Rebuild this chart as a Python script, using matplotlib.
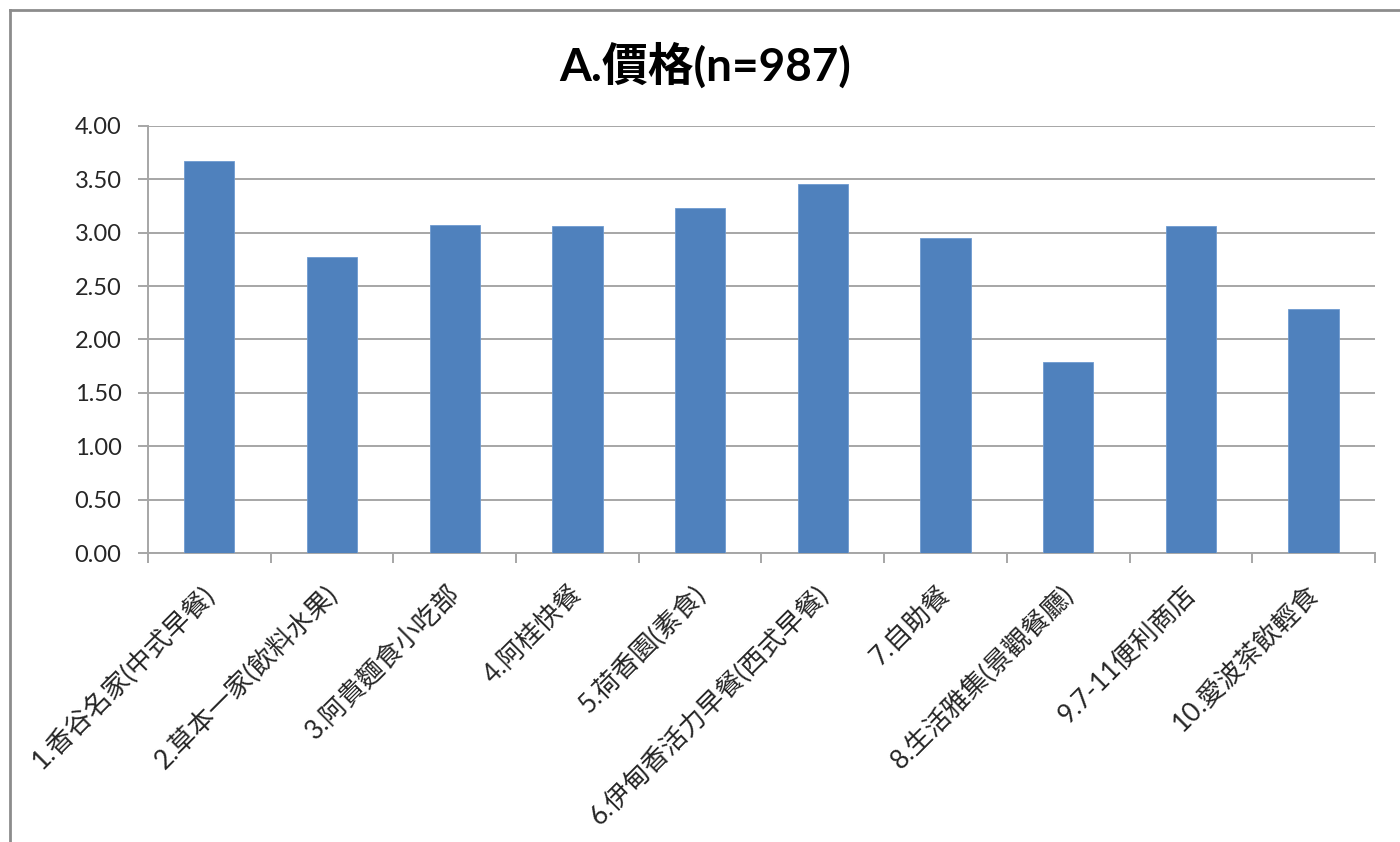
import matplotlib
matplotlib.use("Agg")
import matplotlib.pyplot as plt
import matplotlib.transforms as mtransforms
from matplotlib.lines import Line2D
import numpy as np

plt.rcParams["font.family"] = ["Lato", "Noto Sans CJK TC", "DejaVu Sans"]

# chart data
TITLE = "A.價格(n=987)"
categories = [
    "1.香谷名家(中式早餐)",
    "2.草本一家(飲料水果)",
    "3.阿貴麵食小吃部",
    "4.阿桂快餐",
    "5.荷香園(素食)",
    "6.伊甸香活力早餐(西式早餐)",
    "7.自助餐",
    "8.生活雅集(景觀餐廳)",
    "9.7-11便利商店",
    "10.愛波茶飲輕食",
]
scores = [3.67, 2.77, 3.07, 3.06, 3.23, 3.46, 2.95, 1.79, 3.06, 2.29]
y_ticks = [0.0, 0.5, 1.0, 1.5, 2.0, 2.5, 3.0, 3.5, 4.0]

BAR_COLOR = "#4F81BD"
GRID_COLOR = "#a6a6a6"

fig = plt.figure(figsize=(14, 8.42), dpi=100)
ax = fig.add_axes([0.1057, 0.3432, 0.8764, 0.5072])

x = np.arange(len(categories))
ax.bar(x, scores, width=0.41, color=BAR_COLOR, edgecolor="#6f9ad0",
       linewidth=0.6, zorder=3)

ax.set_xlim(-0.5, len(categories) - 0.5)
ax.set_ylim(0, 4.0)
ax.set_yticks(y_ticks)
ax.set_yticklabels([f"{v:.2f}" for v in y_ticks])

# horizontal gridlines like Excel
ax.grid(axis="y", color=GRID_COLOR, linewidth=1.4, zorder=0)
ax.grid(axis="x", visible=False)

for side in ["top", "right"]:
    ax.spines[side].set_visible(False)
for side in ["left", "bottom"]:
    ax.spines[side].set_color(GRID_COLOR)
    ax.spines[side].set_linewidth(1.4)

ax.tick_params(axis="y", length=7, width=1.4, color=GRID_COLOR,
               labelsize=17, labelcolor="#262626", pad=12)

# category labels at bar centers, tick marks between categories
ax.set_xticks(x)
ax.set_xticklabels(categories, rotation=45, ha="right",
                   rotation_mode="anchor", fontsize=19, color="#262626")
ax.tick_params(axis="x", which="major", length=0, pad=20)
ax.set_xticks(np.arange(-0.5, len(categories) + 0.5, 1.0), minor=True)
ax.tick_params(axis="x", which="minor", length=7, width=1.4, color=GRID_COLOR)

# nudge rotated labels a little to the left, like Excel does
shift = mtransforms.ScaledTranslation(-8 / 100, 0, fig.dpi_scale_trans)
for lbl in ax.get_xticklabels():
    lbl.set_transform(lbl.get_transform() + shift)

fig.text(0.504, 0.922, TITLE, ha="center", va="center",
         fontsize=33, fontweight="bold", color="black")

# chart frame (left and top edges visible in the crop)
fig.add_artist(Line2D([10 / 1400, 10 / 1400], [0, 1 - 10 / 842],
                      transform=fig.transFigure, color="#8c8c8c", linewidth=2))
fig.add_artist(Line2D([10 / 1400, 1], [1 - 10 / 842, 1 - 10 / 842],
                      transform=fig.transFigure, color="#8c8c8c", linewidth=2))

fig.savefig("out.png", dpi=100, facecolor="white")
